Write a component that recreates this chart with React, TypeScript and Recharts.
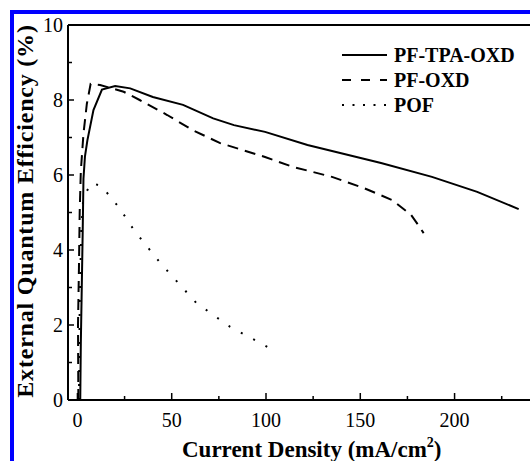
import { LineChart, Line, XAxis, YAxis, ReferenceLine } from "recharts";

const tpaX = [1.5, 1.8, 2.3, 2.8, 3.2, 4, 5.3, 8.5, 13, 20, 28, 40, 56, 72, 83, 99.5, 122, 161, 188, 212, 234];
const tpaY = [0, 1.5, 3, 4.5, 5.9, 6.5, 6.93, 7.73, 8.28, 8.37, 8.31, 8.08, 7.87, 7.51, 7.33, 7.15, 6.8, 6.32, 5.95, 5.55, 5.09];

const oxdX = [0.5, 0.3, 0.8, 1.2, 1.8, 3.2, 5, 7, 12, 24.5, 33, 47.6, 61, 75.7, 99.5, 114, 135, 152, 167, 177, 181.5, 183.6];
const oxdY = [0, 2, 3.5, 5, 6.1, 7.1, 7.9, 8.43, 8.4, 8.22, 8.0, 7.6, 7.2, 6.85, 6.48, 6.22, 5.95, 5.65, 5.33, 4.93, 4.61, 4.45];

const pofX = [0.8, 1.2, 2, 3, 4.8, 7.4, 13, 17.5, 22, 30, 44, 63, 81, 97, 102.6];
const pofY = [0, 2.5, 4.5, 5.3, 5.55, 5.79, 5.7, 5.41, 5.14, 4.53, 3.65, 2.59, 1.95, 1.52, 1.36];

const seriesNames = ["PF-TPA-OXD", "PF-OXD", "POF"];
const xTicks = [0, 25, 50, 75, 100, 125, 150, 175, 200, 225];
const yTicks = [0, 1, 2, 3, 4, 5, 6, 7, 8, 9, 10];

const toRows = (xs: number[], ys: number[]) => xs.map((x, i) => ({ x, y: ys[i] }));

const FONT = "Liberation Serif";
const dashes = ["", "11 7", "2 12"];
const legendDashes = ["", "9 10", "2 8.5"];

const XTick = (props: any) => {
  const { x, y, payload } = props;
  const major = payload.value % 50 === 0;
  return (
    <g>
      <line x1={x} x2={x} y1={y} y2={y - (major ? 7 : 4)} stroke="#000" strokeWidth={1.5} />
      {major && (
        <text x={x} y={y + 27} textAnchor="middle" fontSize={20} fontFamily={FONT} fill="#000">
          {payload.value}
        </text>
      )}
    </g>
  );
};

const YTick = (props: any) => {
  const { x, y, payload } = props;
  const major = payload.value % 2 === 0;
  return (
    <g>
      <line x1={x} x2={x + (major ? 6 : 4)} y1={y} y2={y} stroke="#000" strokeWidth={1.5} />
      {major && (
        <text x={x - 5} y={y + 7} textAnchor="end" fontSize={20} fontFamily={FONT} fill="#000">
          {payload.value}
        </text>
      )}
    </g>
  );
};

export default function App() {
  const series = [toRows(tpaX, tpaY), toRows(oxdX, oxdY), toRows(pofX, pofY)];
  return (
    <div style={{ position: "absolute", left: 0, top: 0, width: 530, height: 461, overflow: "hidden", background: "#fff", fontFamily: FONT }}>
      <div
        style={{
          position: "absolute",
          left: 10,
          top: 10,
          width: 530,
          height: 461,
          borderLeft: "4px solid #0000ff",
          borderTop: "4px solid #0000ff",
        }}
      />
      <div style={{ position: "absolute", left: 0, top: 0 }}>
        <LineChart width={530} height={461} margin={{ top: 25, right: 0, bottom: 0, left: 0 }}>
          <XAxis
            type="number"
            dataKey="x"
            domain={[-5, 240]}
            allowDataOverflow
            ticks={xTicks}
            interval={0}
            tickSize={0}
            tickMargin={0}
            tick={<XTick />}
            height={61}
            axisLine={{ stroke: "#000", strokeWidth: 2 }}
          />
          <YAxis
            type="number"
            dataKey="y"
            domain={[0, 10]}
            allowDataOverflow
            ticks={yTicks}
            interval={0}
            tickSize={0}
            tickMargin={0}
            tick={<YTick />}
            width={68}
            axisLine={{ stroke: "#000", strokeWidth: 2 }}
          />
          <ReferenceLine y={10} stroke="#000" strokeWidth={2} />
          {series.map((rows, i) => (
            <Line
              key={seriesNames[i]}
              data={rows}
              dataKey="y"
              name={seriesNames[i]}
              type="linear"
              stroke="#000"
              strokeWidth={2}
              strokeDasharray={dashes[i] || undefined}
              dot={false}
              activeDot={false}
              isAnimationActive={false}
            />
          ))}
        </LineChart>
      </div>
      <svg width={530} height={461} style={{ position: "absolute", left: 0, top: 0, pointerEvents: "none" }}>
        {seriesNames.map((name, i) => (
          <g key={name}>
            <line
              x1={342}
              x2={387}
              y1={55 + i * 25}
              y2={55 + i * 25}
              stroke="#000"
              strokeWidth={2}
              strokeDasharray={legendDashes[i] || undefined}
            />
            <text x={394} y={62 + i * 25} fontSize={20} fontWeight="bold" fontFamily={FONT} fill="#000">
              {name}
            </text>
          </g>
        ))}
        <text
          transform="translate(33, 211) rotate(-90)"
          textAnchor="middle"
          fontSize={24}
          fontWeight="bold"
          letterSpacing={0.8}
          fontFamily={FONT}
          fill="#000"
        >
          External Quantum Efficiency (%)
        </text>
        <text x={182} y={457} fontSize={23} fontWeight="bold" fontFamily={FONT} fill="#000">
          Current Density (mA/cm
          <tspan fontSize={14} dy={-10}>2</tspan>
          <tspan dy={10}>)</tspan>
        </text>
      </svg>
    </div>
  );
}
